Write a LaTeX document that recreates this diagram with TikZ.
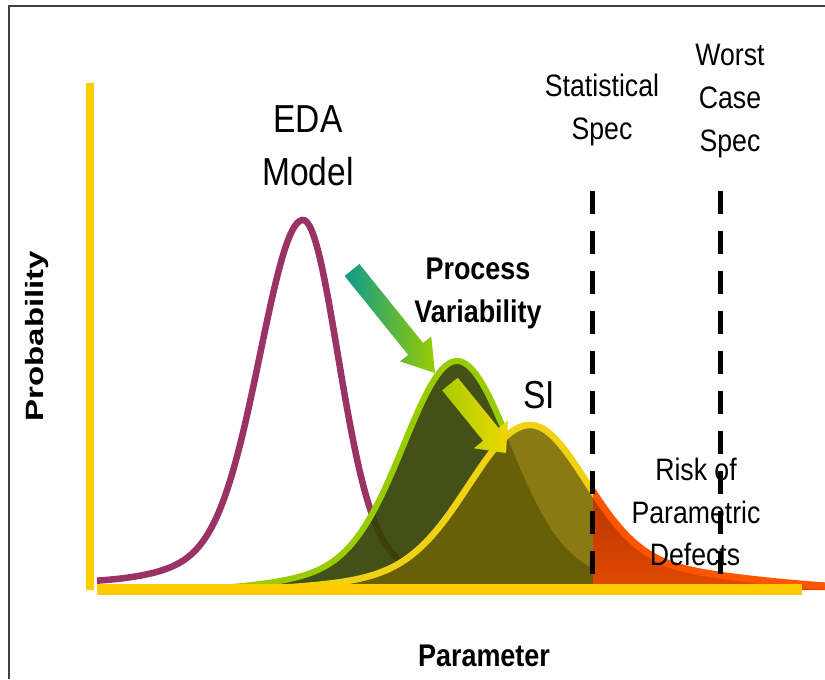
\documentclass[tikz,border=0pt]{standalone}
\usepackage{fontspec}
\setmainfont{Liberation Sans}
\newfontfamily\narrowfont[FakeStretch=0.86]{Liberation Sans}
\newfontfamily\widefont[FakeStretch=1.32]{Liberation Sans}
\definecolor{framecol}{RGB}{64,64,64}
\definecolor{edacol}{RGB}{153,51,102}
\definecolor{axiscol}{RGB}{255,204,0}
\definecolor{pvline}{RGB}{153,204,0}
\definecolor{pvfill}{RGB}{52,66,4}
\definecolor{siline}{RGB}{240,210,20}
\definecolor{sifill}{RGB}{138,122,20}
\definecolor{ovfill}{RGB}{104,96,8}
\definecolor{riskline}{RGB}{255,85,0}
\definecolor{risktop}{RGB}{150,40,0}
\definecolor{riskbot}{RGB}{228,74,0}
\definecolor{tealcol}{RGB}{14,154,142}
\definecolor{arrowtwoa}{RGB}{168,204,0}
\definecolor{arrowtwob}{RGB}{240,216,0}
\def\purplepath{plot[domain=97:490,samples=160] (\x,{583-363*edaf(\x)})}
\def\greenpath{plot[domain=183:700,samples=160] (\x,{592-231*pvf(\x)})}
\def\sipath{plot[domain=190:825,samples=200] (\x,{592-167*sif(\x)})}
\begin{document}
\begin{tikzpicture}[x=0.75pt,y=-0.75pt,
  declare function={
    edau(\t)=(\t<303)*(\t-303)/42+(\t>=303)*(\t-303)/34;
    edaf(\t)=0.87*exp(-(0.5*edau(\t)*edau(\t)))+0.13*exp(-(0.125*edau(\t)*edau(\t)));
    pvu(\t)=(\t-457)/52;
    pvf(\t)=0.85*exp(-(0.5*pvu(\t)*pvu(\t)))+0.15*exp(-(0.5*pvu(\t)*pvu(\t)/4.84));
    siul(\t)=(\t-530)/60;
    siur(\t)=(\t-530)/55;
    sifl(\t)=0.85*exp(-(0.5*siul(\t)*siul(\t)))+0.15*exp(-(0.5*siul(\t)*siul(\t)*0.2066));
    sifr(\t)=0.8*exp(-(0.5*siur(\t)*siur(\t)))+0.2*exp(-(0.5*siur(\t)*siur(\t)*0.1182));
    sif(\t)=(\t<530)*sifl(\t)+(\t>=530)*sifr(\t);
  },
  bigtext/.style={inner sep=0pt, anchor=base, font=\narrowfont\fontsize{29.25pt}{35pt}\selectfont},
  midtext/.style={inner sep=0pt, anchor=base, font=\narrowfont\fontsize{23.25pt}{28pt}\selectfont},
  boldtext/.style={inner sep=0pt, anchor=base, font=\narrowfont\bfseries\fontsize{23.5pt}{29pt}\selectfont},
  specline/.style={line width=3.75pt, dash pattern=on 17.25pt off 12.75pt}]
\useasboundingbox (0,0) rectangle (825,679);
\fill[white] (0,0) rectangle (825,679);
\draw[framecol, line width=1.5pt] (9,679) -- (9,6) -- (825,6);
% EDA model curve
\draw[edacol, line width=4.9pt] \purplepath;
% process variability curve
\fill[pvfill, fill opacity=0.92] \greenpath -- cycle;
\draw[pvline, line width=4.5pt] \greenpath;
% SI curve (left of statistical spec)
\begin{scope}
  \clip (0,0) rectangle (593,679);
  \fill[sifill] \sipath -- (825,592) -- cycle;
  \begin{scope}
    \clip \sipath -- (825,600) -- (190,600) -- cycle;
    \fill[ovfill] \greenpath -- cycle;
  \end{scope}
  \draw[siline, line width=4.9pt] \sipath;
\end{scope}
% risk tail
\begin{scope}
  \clip (593,0) rectangle (825,679);
  \shade[top color=risktop, bottom color=riskbot] \sipath -- (825,590) -- (190,590) -- cycle;
  \draw[riskline, line width=5.25pt] \sipath;
\end{scope}
% axes
\fill[axiscol] (86,83) rectangle (94,590);
\fill[axiscol] (97,584) rectangle (802,595);
% arrows
\shade[left color=tealcol, right color=pvline] (344.6,276.0) -- (359.4,264.0) -- (423.0,342.9) -- (431.2,336.4) -- (435,373) -- (400.0,361.4) -- (408.2,354.9) -- cycle;
\shade[left color=arrowtwoa, right color=arrowtwob] (442.2,390.3) -- (457.8,377.7) -- (498.7,428.1) -- (508.0,420.5) -- (506,453) -- (473.8,448.3) -- (483.1,440.7) -- cycle;
% texts
\node[bigtext] (eda1) at (308,132) {EDA};
\node[bigtext] (eda2) at (308,185) {Model};
\node[midtext] (stat1) at (602,96) {Statistical};
\node[midtext] (stat2) at (602,139) {Spec};
\node[midtext] (wc1) at (730,65) {Worst};
\node[midtext] (wc2) at (730,108) {Case};
\node[midtext] (wc3) at (730,151) {Spec};
\node[boldtext] (pv1) at (478,279) {Process};
\node[boldtext] (pv2) at (478,322) {Variability};
\node[bigtext] (si) at (539,408) {SI};
\node[midtext] (risk1) at (696,480) {Risk of};
\node[midtext] (risk2) at (696,523) {Parametric};
\node[midtext] (risk3) at (695,565) {Defects};
\node[boldtext] (xlab) at (484,666) {Parameter};
\node[inner sep=0pt, anchor=base, rotate=90, font=\widefont\bfseries\fontsize{18.75pt}{22pt}\selectfont] (ylab) at (43,336) {Probability};
% spec limits
\draw[specline] (592.5,191) -- (592.5,577);
\draw[specline] (720,191) -- (720,577);
\end{tikzpicture}
\end{document}
